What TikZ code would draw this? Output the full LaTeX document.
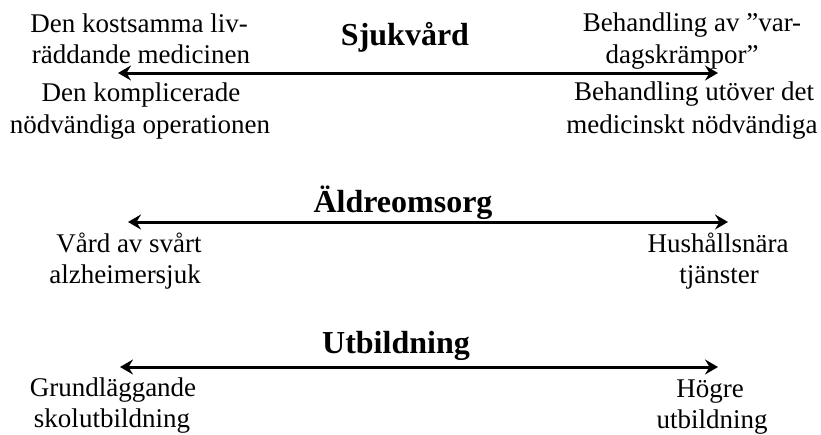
\documentclass[tikz,border=0pt]{standalone}
\usepackage{fontspec}
\setmainfont{Liberation Serif}
\usetikzlibrary{arrows.meta}
\tikzset{
  lbl/.style={anchor=base, inner sep=0pt, font=\fontsize{27}{32}\selectfont},
  ttl/.style={anchor=base, inner sep=0pt, font=\fontsize{32}{38}\selectfont\bfseries},
  dblarrow/.style={line width=3pt, {Stealth[length=13pt,width=15pt,inset=4.5pt]}-{Stealth[length=13pt,width=15pt,inset=4.5pt]}}
}
\begin{document}
\begin{tikzpicture}[x=1pt,y=-1pt]
\useasboundingbox (0,0) rectangle (821,434);
% Sjukvård
\node[ttl] (t1) at (405,45) {Sjukvård};
\coordinate (a1l) at (118,73);
\coordinate (a1r) at (718,73);
\draw[dblarrow] (a1l) -- (a1r);
\node[lbl] (l1a) at (139,32) {Den kostsamma liv-};
\node[lbl] (l1b) at (141,63) {räddande medicinen};
\node[lbl] (l1c) at (141,101) {Den komplicerade};
\node[lbl] (l1d) at (140,133) {nödvändiga operationen};
\node[lbl] (r1a) at (692,31) {Behandling av ”var-};
\node[lbl] (r1b) at (682,63) {dagskrämpor”};
\node[lbl] (r1c) at (694,100) {Behandling utöver det};
\node[lbl] (r1d) at (692,133) {medicinskt nödvändiga};
% Äldreomsorg
\node[ttl] (t2) at (403,212) {Äldreomsorg};
\coordinate (a2l) at (128,222);
\coordinate (a2r) at (728,222);
\draw[dblarrow] (a2l) -- (a2r);
\node[lbl] (l2a) at (129,252) {Vård av svårt};
\node[lbl] (l2b) at (125,283) {alzheimersjuk};
\node[lbl] (r2a) at (718,252) {Hushållsnära};
\node[lbl] (r2b) at (719,283) {tjänster};
% Utbildning
\node[ttl] (t3) at (396,353) {Utbildning};
\coordinate (a3l) at (120,367);
\coordinate (a3r) at (718,367);
\draw[dblarrow] (a3l) -- (a3r);
\node[lbl] (l3a) at (113,396) {Grundläggande};
\node[lbl] (l3b) at (112,427) {skolutbildning};
\node[lbl] (r3a) at (710,397) {Högre};
\node[lbl] (r3b) at (712,428) {utbildning};
\end{tikzpicture}
\end{document}
